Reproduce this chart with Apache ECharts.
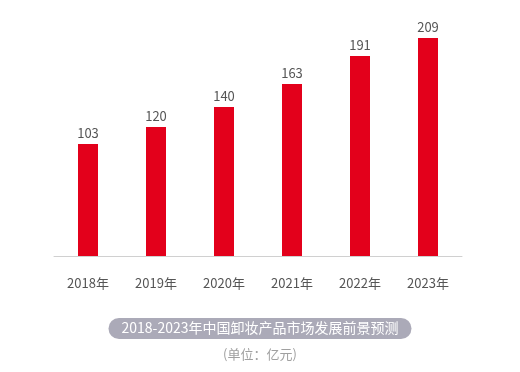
<!DOCTYPE html>
<html><head><meta charset="utf-8">
<script src="https://cdn.jsdelivr.net/npm/echarts@6/dist/echarts.min.js"></script>
<style>html,body{margin:0;padding:0;background:#fff}#c{width:520px;height:372px}</style>
</head><body><div id="c"></div>
<script>
const categories = ['2018年','2019年','2020年','2021年','2022年','2023年'];
const values = [103,120,140,163,191,209];
const titleText = '2018-2023年中国卸妆产品市场发展前景预测';
const unitText = '(单位：亿元)';
const font = '"Noto Sans CJK SC", "Noto Sans", sans-serif';
const chart = echarts.init(document.getElementById('c'), null, {renderer:'canvas'});
chart.setOption({
  animation:false,
  backgroundColor:'#fff',
  textStyle:{fontFamily:font},
  title:[
    {text:titleText,left:'center',top:318,backgroundColor:'#abaab8',borderRadius:11,padding:[2,13,3,13],
     textStyle:{color:'#fff',fontSize:14,fontWeight:'normal',fontFamily:font,lineHeight:16}},
    {text:unitText,left:'center',top:348,padding:0,
     textStyle:{color:'#a0a0a0',fontSize:13,fontWeight:'normal',fontFamily:font}}
  ],
  grid:{left:54,right:58,top:10,bottom:116},
  xAxis:{type:'category',data:categories,
    axisLine:{onZero:false,lineStyle:{color:'#d0d0d0',width:1}},axisTick:{show:false},
    axisLabel:{color:'#555',fontSize:13,margin:21,fontFamily:font}},
  yAxis:{type:'value',min:-9,max:237,startValue:-9,show:false,splitLine:{show:false}},
  series:[{type:'bar',data:values,barWidth:20,itemStyle:{color:'#e3001b'},
    label:{show:true,position:'top',distance:4,color:'#555',fontSize:13,fontFamily:font}}]
});
</script></body></html>
